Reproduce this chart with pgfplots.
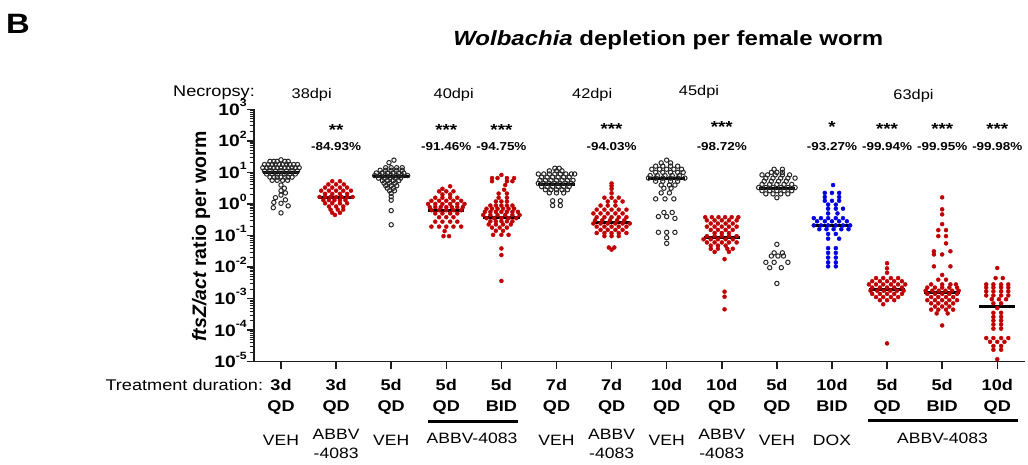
\documentclass[border=0pt]{standalone}
\usepackage{pgfplots}
\pgfplotsset{compat=1.18}
\usepackage{graphicx}
\usepackage{fontspec}
\setmainfont{Liberation Sans}
\definecolor{dred}{RGB}{192,0,0}
\definecolor{dblue}{RGB}{0,0,225}
\definecolor{axcol}{RGB}{30,30,30}
% text in the reference is slightly wider than tall
\newcommand{\hs}[1]{\scalebox{1.17}[1]{#1}}
\newcommand{\fs}[1]{\fontsize{#1}{#1}\selectfont}
\pgfplotsset{
  veh/.style={only marks, mark=o, mark size=2.2pt, mark options={line width=1pt, draw=black!85}},
  abbv/.style={only marks, mark=*, mark size=2pt, mark options={draw=dred, fill=dred}},
  dox/.style={only marks, mark=*, mark size=2pt, mark options={draw=dblue, fill=dblue}},
  med/.style={black, line width=3pt, no marks},
}

\begin{document}
\begin{tikzpicture}
\useasboundingbox (0pt,0pt) rectangle (1028pt,464pt);
\begin{axis}[
  at={(254pt,102.3pt)}, anchor=south west,
  scale only axis, width=770.8pt, height=252.4pt,
  xmin=-0.49, xmax=13.5,
  ymode=log, log basis y=10, ymin=1e-5, ymax=1e3,
  axis lines*=left, axis line style={-, line width=1.3pt, axcol},
  xtick={0,...,13}, xticklabels={},
  ytick={1e-5,1e-4,1e-3,1e-2,1e-1,1,10,100,1000},
  extra y ticks={2e-5,3e-5,4e-5,5e-5,6e-5,7e-5,8e-5,9e-5,
    2e-4,3e-4,4e-4,5e-4,6e-4,7e-4,8e-4,9e-4,
    2e-3,3e-3,4e-3,5e-3,6e-3,7e-3,8e-3,9e-3,
    0.02,0.03,0.04,0.05,0.06,0.07,0.08,0.09,
    0.2,0.3,0.4,0.5,0.6,0.7,0.8,0.9,
    2,3,4,5,6,7,8,9,
    20,30,40,50,60,70,80,90,
    200,300,400,500,600,700,800,900},
  extra y tick labels={},
  extra y tick style={major tick length=4.5pt, tick style={line width=1pt, draw=axcol}},
  tick align=outside, major tick length=7pt,
  tick style={line width=1.5pt, draw=axcol},
  yticklabel={\hs{\fs{16.5}\bfseries 10\raisebox{0.52em}{\fs{10.5}\bfseries\pgfmathparse{int(round(\tick))}\pgfmathresult}}},
  yticklabel style={anchor=base east, inner sep=0pt, yshift=-5.9pt},
  clip=false,
]
% 3d QD VEH
\addplot[veh] coordinates {
(0,25.1)
(-0.2,22.4) (-0.13,22.4) (-0.07,22.4) (0.07,22.4) (0.13,22.4)
(-0.3,17.8) (-0.23,17.8) (-0.16,17.8) (-0.1,17.8) (-0.03,17.8) (0.03,17.8) (0.1,17.8) (0.16,17.8) (0.23,17.8) (0.3,17.8)
(-0.33,14.1) (-0.26,14.1) (-0.2,14.1) (-0.13,14.1) (-0.07,14.1) (0,14.1) (0.07,14.1) (0.13,14.1) (0.2,14.1) (0.26,14.1) (0.33,14.1)
(-0.3,11.2) (-0.2,11.2) (-0.1,11.2) (0,11.2) (0.1,11.2) (0.2,11.2) (0.3,11.2)
(-0.26,8.91) (-0.16,8.91) (-0.06,8.91) (0.06,8.91) (0.16,8.91) (0.26,8.91)
(-0.2,7.08) (-0.13,7.08) (-0.07,7.08) (0,7.08) (0.07,7.08) (0.13,7.08) (0.2,7.08)
(-0.16,5.62) (-0.07,5.62) (0.03,5.62) (0.12,5.62)
(0,3.98) (0.06,3.16) (0,2.63) (0.08,2.24) (0,1.91) (-0.1,1.58) (0.08,1.35) (-0.13,1.12) (0,1.05) (0.13,0.87) (-0.14,0.76) (0,0.52)
};
% 3d QD ABBV-4083
\addplot[abbv] coordinates {
(0.93,5.25) (1.07,5.25)
(0.86,4.17) (1,4.17) (1.14,4.17)
(0.8,3.31) (0.93,3.31) (1.07,3.31) (1.2,3.31)
(0.73,2.63) (0.87,2.63) (1,2.63) (1.13,2.63) (1.27,2.63)
(0.8,2.09) (0.93,2.09) (1.07,2.09) (1.2,2.09)
(0.7,1.66) (0.8,1.66) (0.9,1.66) (1,1.66) (1.1,1.66) (1.2,1.66) (1.3,1.66)
(0.77,1.32) (0.87,1.32) (0.97,1.32) (1.07,1.32) (1.17,1.32)
(0.8,1.05) (0.93,1.05) (1.07,1.05) (1.2,1.05)
(0.87,0.832) (1,0.832) (1.13,0.832)
(0.9,0.661) (1.03,0.661) (1.13,0.661)
(0.93,0.525) (1.07,0.525)
(0.98,0.447)
};
% 5d QD VEH
\addplot[veh] coordinates {
(2.05,24.5) (1.96,20.4)
(1.9,14.1) (2,14.1) (2.1,14.1) (2.2,14.1)
(1.8,11.7) (1.9,11.7) (2,11.7) (2.1,11.7) (2.2,11.7)
(1.73,9.55) (1.83,9.55) (1.93,9.55) (2.03,9.55) (2.13,9.55) (2.23,9.55)
(1.7,7.94) (1.8,7.94) (1.9,7.94) (2,7.94) (2.1,7.94) (2.2,7.94) (2.3,7.94)
(1.77,6.61) (1.87,6.61) (1.97,6.61) (2.07,6.61) (2.17,6.61)
(1.84,5.5) (1.94,5.5) (2.04,5.5) (2.14,5.5)
(1.87,4.57) (1.97,4.57) (2.07,4.57)
(1.9,3.8) (2,3.8) (2.1,3.8)
(1.93,3.16) (2.04,3.16)
(1.97,2.63) (2.06,2.63)
(2,2.19) (2,1.7) (2,1.32) (2,0.617) (2,0.219)
};
% 5d QD ABBV-4083
\addplot[abbv] coordinates {
(3.07,3.63) (2.93,3.02)
(2.87,2.51) (3,2.51) (3.13,2.51)
(2.93,2.0) (3.07,2.0)
(2.8,1.58) (2.93,1.58) (3.07,1.58) (3.2,1.58)
(2.73,1.26) (2.87,1.26) (3,1.26) (3.13,1.26) (3.27,1.26)
(2.67,1.0) (2.8,1.0) (2.93,1.0) (3.07,1.0) (3.2,1.0) (3.33,1.0)
(2.7,0.794) (2.8,0.794) (2.9,0.794) (3,0.794) (3.1,0.794) (3.2,0.794) (3.3,0.794)
(2.73,0.631) (2.87,0.631) (3,0.631) (3.13,0.631) (3.27,0.631)
(2.8,0.501) (2.93,0.501) (3.07,0.501) (3.2,0.501)
(2.87,0.38) (3,0.38) (3.13,0.38)
(2.8,0.275) (2.93,0.275) (3.07,0.275) (3.2,0.275)
(2.73,0.191) (2.87,0.191) (3,0.191) (3.13,0.191) (3.27,0.191)
(2.97,0.138) (2.95,0.0955) (3.05,0.0955)
};
% 5d BID ABBV-4083
\addplot[abbv] coordinates {
(4,8.32)
(3.83,6.61) (3.93,6.61) (4.1,6.61) (4.23,6.61)
(3.83,5.25) (4.1,5.25) (4.2,5.25)
(4.07,3.98) (4.05,2.82)
(3.95,2.14) (4.1,2.14)
(3.95,1.58) (4.1,1.58)
(3.9,1.2) (4,1.2) (4.1,1.2)
(3.8,0.891) (3.9,0.891) (4,0.891) (4.1,0.891) (4.2,0.891)
(3.73,0.708) (3.83,0.708) (3.93,0.708) (4.03,0.708) (4.13,0.708) (4.23,0.708)
(3.7,0.562) (3.8,0.562) (3.9,0.562) (4,0.562) (4.1,0.562) (4.2,0.562) (4.3,0.562)
(3.67,0.447) (3.8,0.447) (3.93,0.447) (4.07,0.447) (4.2,0.447) (4.33,0.447)
(3.73,0.355) (3.87,0.355) (4,0.355) (4.13,0.355) (4.27,0.355)
(3.8,0.282) (3.9,0.282) (4,0.282) (4.1,0.282) (4.2,0.282)
(3.77,0.224) (3.9,0.224) (4.03,0.224) (4.17,0.224)
(3.83,0.178) (3.97,0.178) (4.1,0.178)
(3.9,0.141) (4.03,0.141)
(3.85,0.105) (4,0.105) (4.13,0.105)
(4,0.0389) (4,0.024) (4,0.00363)
};
% 7d QD VEH
\addplot[veh] coordinates {
(4.97,13.5) (5.05,13.5)
(4.87,11.2) (5,11.2) (5.1,11.2)
(4.67,8.91) (4.77,8.91) (4.87,8.91) (4.97,8.91) (5.07,8.91) (5.17,8.91) (5.27,8.91) (5.33,8.91)
(4.73,7.08) (4.83,7.08) (4.93,7.08) (5.03,7.08) (5.13,7.08) (5.23,7.08)
(4.7,5.62) (4.8,5.62) (4.9,5.62) (5,5.62) (5.1,5.62) (5.2,5.62) (5.3,5.62)
(4.67,4.47) (4.77,4.47) (4.87,4.47) (4.97,4.47) (5.07,4.47) (5.17,4.47) (5.27,4.47)
(4.73,3.55) (4.83,3.55) (4.93,3.55) (5.03,3.55) (5.13,3.55) (5.23,3.55)
(4.8,2.82) (4.9,2.82) (5,2.82) (5.1,2.82) (5.2,2.82)
(4.87,2.24) (5,2.24) (5.13,2.24)
(4.93,1.26) (5.07,1.26)
(4.93,0.891) (5.07,0.891)
};
% 7d QD ABBV-4083
\addplot[abbv] coordinates {
(6,4.47) (6,3.72) (6,3.02) (6,2.19)
(5.87,1.58) (6,1.58) (6.13,1.58)
(5.93,1.2) (6.07,1.2) (6.2,1.2)
(5.8,0.891) (5.93,0.891) (6.07,0.891)
(5.73,0.661) (5.87,0.661) (6,0.661) (6.13,0.661) (6.27,0.661)
(5.67,0.501) (5.8,0.501) (5.93,0.501) (6.07,0.501) (6.2,0.501)
(5.73,0.38) (5.87,0.38) (6,0.38) (6.13,0.38) (6.27,0.38)
(5.7,0.302) (5.83,0.302) (5.97,0.302) (6.1,0.302) (6.23,0.302)
(5.67,0.24) (5.8,0.24) (5.93,0.24) (6.07,0.24) (6.2,0.24) (6.33,0.24)
(5.73,0.191) (5.87,0.191) (6,0.191) (6.13,0.191) (6.27,0.191)
(5.8,0.151) (5.93,0.151) (6.07,0.151) (6.2,0.151)
(5.73,0.12) (5.87,0.12) (6,0.12) (6.13,0.12) (6.27,0.12)
(5.87,0.0955) (6,0.0955) (6.13,0.0955)
(5.95,0.0417) (6.05,0.0417) (6,0.0355)
};
% 10d QD VEH
\addplot[veh] coordinates {
(7,24.5) (6.9,20) (7.07,20)
(6.8,15.8) (6.93,15.8) (7.07,15.8) (7.2,15.8)
(6.73,12.6) (6.87,12.6) (7,12.6) (7.13,12.6) (7.27,12.6)
(6.8,10) (6.93,10) (7.07,10) (7.2,10) (7.3,10)
(6.7,7.94) (6.83,7.94) (6.97,7.94) (7.1,7.94) (7.23,7.94)
(6.67,6.61) (6.8,6.61) (6.93,6.61) (7.07,6.61) (7.2,6.61) (7.33,6.61)
(6.8,5.25) (6.93,5.25) (7.07,5.25) (7.2,5.25)
(6.9,3.98) (7.05,3.98) (7.15,3.98)
(6.95,3.16) (7.08,3.16)
(6.9,2.24) (7.05,2.24)
(6.8,1.45) (6.97,1.45) (7.13,1.45)
(6.95,0.537) (7.1,0.537)
(6.85,0.398) (7,0.398) (7.15,0.347)
(6.85,0.126) (7,0.126) (7.15,0.126)
(7,0.0851) (7,0.0562)
};
% 10d QD ABBV-4083
\addplot[abbv] coordinates {
(7.7,0.38) (7.82,0.38) (7.94,0.38) (8.06,0.38) (8.18,0.38) (8.3,0.38)
(7.73,0.302) (7.87,0.302) (8,0.302) (8.13,0.302) (8.27,0.302)
(7.8,0.24) (7.93,0.24) (8.07,0.24) (8.2,0.24)
(7.73,0.191) (7.87,0.191) (8,0.191) (8.13,0.191) (8.27,0.191)
(7.8,0.151) (7.93,0.151) (8.07,0.151) (8.2,0.151)
(7.87,0.12) (8,0.12) (8.13,0.12)
(7.73,0.0955) (7.87,0.0955) (8,0.0955) (8.13,0.0955) (8.27,0.0955)
(7.67,0.0759) (7.8,0.0759) (7.93,0.0759) (8.07,0.0759) (8.2,0.0759)
(7.73,0.0603) (7.87,0.0603) (8,0.0603) (8.13,0.0603) (8.27,0.0603)
(7.8,0.0479) (7.93,0.0479) (8.07,0.0479)
(7.8,0.038) (7.93,0.038) (8.1,0.038) (8.2,0.038)
(7.87,0.0302) (8.13,0.0302)
(8.05,0.0178) (8.05,0.00166) (8.05,0.00115) (8.05,0.000457)
};
% 5d QD VEH (63dpi)
\addplot[veh] coordinates {
(8.95,12.6) (9.1,12.6)
(8.9,10) (9,10) (9.1,10)
(8.73,8.32) (8.83,8.32) (8.97,8.32) (9.1,8.32) (9.23,8.32)
(8.8,6.61) (8.93,6.61) (9.07,6.61) (9.2,6.61) (9.33,6.61)
(8.77,5.25) (8.9,5.25) (9.03,5.25) (9.17,5.25)
(8.73,4.17) (8.87,4.17) (9,4.17) (9.13,4.17) (9.27,4.17)
(8.67,3.31) (8.8,3.31) (8.93,3.31) (9.07,3.31) (9.2,3.31) (9.33,3.31)
(8.73,2.63) (8.87,2.63) (9,2.63) (9.13,2.63) (9.27,2.63)
(8.8,2.09) (8.93,2.09) (9.07,2.09) (9.2,2.09)
(9,1.58)
(9,0.0525)
(8.95,0.0282) (9.1,0.0282)
(8.9,0.0224) (9.02,0.0224) (9.12,0.0224)
(8.8,0.0141) (8.95,0.0141) (9.2,0.0141)
(8.87,0.00955) (9.08,0.00955)
(9,0.00302)
};
% 10d BID DOX
\addplot[dox] coordinates {
(10.02,3.98)
(9.87,2.24) (10,2.24) (10.13,2.24)
(9.87,1.66) (10.13,1.66)
(9.87,1.26) (10,1.26) (10.13,1.26)
(9.93,0.955) (10.07,0.955)
(9.93,0.708) (10.07,0.708) (10.2,0.708)
(9.93,0.501) (10.1,0.501)
(9.67,0.355) (9.8,0.355) (9.93,0.355) (10.07,0.355) (10.2,0.355)
(9.73,0.282) (9.87,0.282) (10,0.282) (10.13,0.282) (10.27,0.282)
(9.67,0.209) (9.8,0.209) (9.93,0.209) (10.07,0.209) (10.2,0.209) (10.33,0.209)
(9.77,0.158) (9.9,0.158) (10.03,0.158) (10.17,0.158) (10.3,0.158)
(9.93,0.112) (10.07,0.112)
(9.93,0.0794) (10.13,0.0794)
(9.93,0.0398) (10.07,0.0398)
(9.93,0.0282) (10.07,0.0282)
(9.93,0.02) (10.07,0.02)
(9.93,0.0141) (10.07,0.0141)
(9.93,0.0105) (10.07,0.0105)
};
% 5d QD ABBV-4083 (63dpi)
\addplot[abbv] coordinates {
(11,0.0132) (11,0.00912) (11,0.00661)
(10.8,0.00447) (10.93,0.00447) (11.07,0.00447) (11.2,0.00447)
(10.73,0.00355) (10.87,0.00355) (11,0.00355) (11.13,0.00355) (11.27,0.00355)
(10.67,0.00282) (10.8,0.00282) (10.93,0.00282) (11.07,0.00282) (11.2,0.00282) (11.33,0.00282)
(10.73,0.00224) (10.87,0.00224) (11,0.00224) (11.13,0.00224) (11.27,0.00224)
(10.7,0.00178) (10.82,0.00178) (10.94,0.00178) (11.06,0.00178) (11.18,0.00178) (11.3,0.00178)
(10.73,0.00141) (10.87,0.00141) (11,0.00141) (11.13,0.00141) (11.27,0.00141)
(10.8,0.00112) (10.93,0.00112) (11.07,0.00112) (11.2,0.00112)
(10.87,0.000891) (11,0.000891) (11.13,0.000891)
(10.93,0.000661)
(11,0.000038)
};
% 5d BID ABBV-4083 (63dpi)
\addplot[abbv] coordinates {
(12,1.62) (12,0.676) (12,0.468) (12,0.229)
(11.93,0.148) (12.07,0.148)
(11.93,0.0955) (12.07,0.0955)
(12.07,0.0562)
(11.85,0.0316) (12.15,0.0316)
(11.85,0.0251) (12,0.0251)
(11.85,0.0105) (12.15,0.0105)
(12,0.00562)
(11.93,0.00398) (12.07,0.00398)
(11.8,0.00282) (12,0.00282) (12.15,0.00282) (12.25,0.00282)
(11.73,0.00224) (11.87,0.00224) (12,0.00224) (12.13,0.00224) (12.27,0.00224)
(11.7,0.00178) (11.82,0.00178) (11.94,0.00178) (12.06,0.00178) (12.18,0.00178) (12.3,0.00178)
(11.73,0.00141) (11.87,0.00141) (12,0.00141) (12.13,0.00141) (12.27,0.00141)
(11.8,0.00112) (11.93,0.00112) (12.07,0.00112) (12.2,0.00112)
(11.73,0.000891) (11.87,0.000891) (12,0.000891) (12.13,0.000891) (12.27,0.000891)
(11.8,0.000708) (11.93,0.000708) (12.07,0.000708) (12.2,0.000708)
(11.87,0.000562) (12,0.000562) (12.13,0.000562)
(11.8,0.000447) (11.93,0.000447) (12.07,0.000447) (12.2,0.000447)
(11.9,0.000339) (12.1,0.000339)
(12,0.000141)
};
% 10d QD ABBV-4083 (63dpi)
\addplot[abbv] coordinates {
(13,0.00933)
(12.97,0.00447) (13.1,0.00447)
(12.8,0.00282) (12.93,0.00282) (13.07,0.00282) (13.2,0.00282)
(12.8,0.00224) (12.93,0.00224) (13.07,0.00224) (13.2,0.00224)
(12.8,0.0017) (12.93,0.0017) (13.07,0.0017) (13.2,0.0017)
(12.8,0.00126) (12.93,0.00126) (13.07,0.00126) (13.2,0.00126)
(12.9,0.000955) (13.03,0.000955) (13.16,0.000955)
(12.93,0.000708) (13.07,0.000708)
(13,0.000501)
(12.93,0.000355) (13.07,0.000355)
(12.93,0.000263) (13.07,0.000263)
(12.93,0.0002) (13.07,0.0002)
(12.93,0.000151) (13.07,0.000151)
(12.93,0.000112) (13.07,0.000112)
(12.8,5.62e-5) (12.93,5.62e-5) (13.07,5.62e-5) (13.2,5.62e-5)
(12.87,4.27e-5) (13,4.27e-5) (13.13,4.27e-5)
(12.93,3.16e-5) (13.07,3.16e-5)
(12.93,2.4e-5) (13.07,2.4e-5)
(13,1.2e-5)
};
% median bars
\addplot[med] coordinates {(-0.33,10) (0.33,10)};
\addplot[med] coordinates {(0.67,1.58) (1.33,1.58)};
\addplot[med] coordinates {(1.67,7.4) (2.33,7.4)};
\addplot[med] coordinates {(2.67,0.6) (3.33,0.6)};
\addplot[med] coordinates {(3.67,0.36) (4.33,0.36)};
\addplot[med] coordinates {(4.67,4.17) (5.33,4.17)};
\addplot[med] coordinates {(5.67,0.25) (6.33,0.25)};
\addplot[med] coordinates {(6.67,6.6) (7.33,6.6)};
\addplot[med] coordinates {(7.67,0.085) (8.33,0.085)};
\addplot[med] coordinates {(8.67,3.16) (9.33,3.16)};
\addplot[med] coordinates {(9.67,0.204) (10.33,0.204)};
\addplot[med] coordinates {(10.67,0.00195) (11.33,0.00195)};
\addplot[med] coordinates {(11.67,0.00158) (12.33,0.00158)};
\addplot[med] coordinates {(12.67,0.000575) (13.33,0.000575)};
\end{axis}

% panel letter and title
\node[anchor=base west, inner sep=0pt] at (6pt,430.7pt) {\hs{\fs{28}\bfseries B}};
\node[anchor=base, inner sep=0pt] at (668.3pt,418.3pt) {\hs{\fs{20.5}\bfseries\itshape Wolbachia\upshape\ depletion per female worm}};
% y label
\node[rotate=90, inner sep=0pt] at (201pt,227.5pt) {\fs{19.5}\bfseries\itshape ftsZ/act\upshape\ ratio per worm};
% necropsy row
\node[anchor=base east, inner sep=0pt] at (255pt,367.3pt) {\hs{\fs{15.5}Necropsy:}};
\node[anchor=base, inner sep=0pt] at (311.7pt,365.7pt) {\hs{\fs{14}38dpi}};
\node[anchor=base, inner sep=0pt] at (453.7pt,365.7pt) {\hs{\fs{14}40dpi}};
\node[anchor=base, inner sep=0pt] at (592.2pt,365.5pt) {\hs{\fs{14}42dpi}};
\node[anchor=base, inner sep=0pt] at (699pt,368.5pt) {\hs{\fs{14}45dpi}};
\node[anchor=base, inner sep=0pt] at (913.5pt,364.5pt) {\hs{\fs{14}63dpi}};
% significance and reduction
\foreach \i/\s/\p/\yy in {1/**/-84.93/328,3/***/-91.46/328,4/***/-94.75/328,6/***/-94.03/329.5,8/***/-98.72/331.5,10/*/-93.27/331.5,11/***/-99.94/329.5,12/***/-99.95/329.5,13/***/-99.98/329.5}{
  \node[anchor=base, inner sep=0pt] at ({(281+55.1*\i)*1pt},{\yy*1pt}) {\hs{\fs{16}\bfseries \s}};
  \node[anchor=base, inner sep=0pt] at ({(281+55.1*\i)*1pt},313pt) {\hs{\fs{11.5}\bfseries \p\%}};
}
% treatment rows
\node[anchor=base east, inner sep=0pt] at (263.3pt,74pt) {\hs{\fs{15.5}Treatment duration:}};
\foreach \i/\a/\b in {0/3d/QD,1/3d/QD,2/5d/QD,3/5d/QD,4/5d/BID,5/7d/QD,6/7d/QD,7/10d/QD,8/10d/QD,9/5d/QD,10/10d/BID,11/5d/QD,12/5d/BID,13/10d/QD}{
  \node[anchor=base, inner sep=0pt] at ({(281+55.1*\i)*1pt},74pt) {\hs{\fs{15.5}\bfseries \a}};
  \node[anchor=base, inner sep=0pt] at ({(281+55.1*\i)*1pt},53pt) {\hs{\fs{15.5}\bfseries \b}};
}
\foreach \i/\t in {0/VEH,2/VEH,5/VEH,7/VEH,9/VEH,10/DOX}{
  \node[anchor=base, inner sep=0pt] at ({(281+55.1*\i)*1pt},18.5pt) {\hs{\fs{15}\t}};
}
\foreach \i in {1,6,8}{
  \node[anchor=base, inner sep=0pt] at ({(281+55.1*\i)*1pt},24.5pt) {\hs{\fs{15}ABBV}};
  \node[anchor=base, inner sep=0pt] at ({(281+55.1*\i)*1pt},5.5pt) {\hs{\fs{15}-4083}};
}
\draw[line width=2.5pt] (428pt,42.3pt) -- (518pt,42.3pt);
\node[anchor=base, inner sep=0pt] at (472pt,21pt) {\hs{\fs{15}ABBV-4083}};
\draw[line width=2.5pt] (867.7pt,43.5pt) -- (1018pt,43.5pt);
\node[anchor=base, inner sep=0pt] at (942.5pt,21pt) {\hs{\fs{15}ABBV-4083}};
\end{tikzpicture}
\end{document}
